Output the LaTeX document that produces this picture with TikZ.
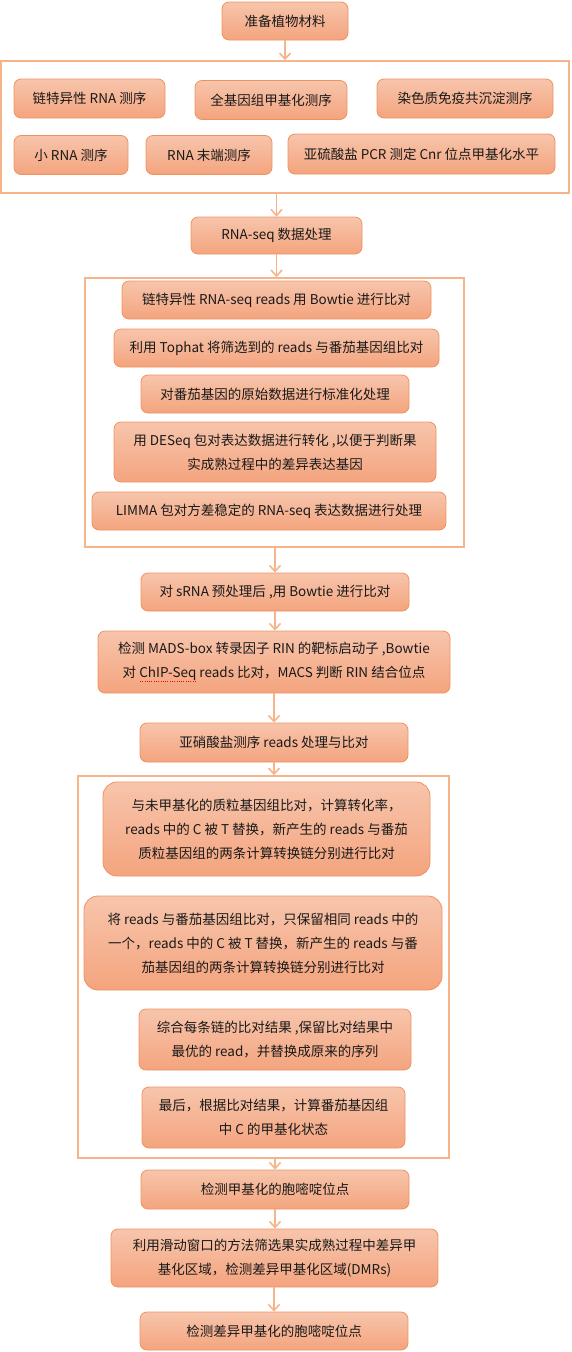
\documentclass[tikz,border=0pt]{standalone}
\usepackage{fontspec}
\setmainfont{Noto Sans CJK SC}
\usepackage{xcolor}
\usepackage{tikz}
\usetikzlibrary{arrows.meta,positioning,calc}

\definecolor{boxtop}{RGB}{247,197,172}
\definecolor{boxbot}{RGB}{244,164,126}
\definecolor{boxedge}{RGB}{240,146,96}
\definecolor{frameline}{RGB}{246,180,138}
% red dotted spell mark under a word
\newcommand\spellmark[1]{\setbox0\hbox{#1}\rlap{\color{red}\raisebox{-3.5pt}{\hbox to \wd0{\xleaders\hbox to 2.2pt{\hss\rule{0.8pt}{0.8pt}\hss}\hfill}}}#1}

\begin{document}
\begin{tikzpicture}[x=1pt, y=-1pt, font=\fontsize{13.5}{24}\selectfont, >={Straight Barb[length=6pt,width=11pt]},
  stepbox/.style={draw=boxedge, line width=0.8pt, rounded corners=7pt, top color=boxtop, bottom color=boxbot, align=center, inner sep=0pt, text=black!90},
  boxsize/.style 2 args={minimum width=#1, minimum height=#2},
  groupframe/.style={draw=frameline, line width=1.6pt, inner sep=0pt},
  flow/.style={->, draw=frameline, line width=1.6pt}]
\useasboundingbox (0,0) rectangle (571,1352);
% plant material and sequencing
\node[stepbox, boxsize={126}{38}] (prep) at (285,21) {准备植物材料};
\node[groupframe, boxsize={568}{132}] (grp1) at (285,127) {};
\node[stepbox, boxsize={151}{39}] (ssrna) at (89.5,98.5) {链特异性 RNA 测序};
\node[stepbox, boxsize={152}{39}] (wgbs) at (271,100) {全基因组甲基化测序};
\node[stepbox, boxsize={176}{39}] (chip) at (465,98.5) {染色质免疫共沉淀测序};
\node[stepbox, boxsize={114}{39}] (smallrna) at (71,155) {小 RNA 测序};
\node[stepbox, boxsize={126}{39}] (rnaend) at (209,155) {RNA 末端测序};
\node[stepbox, boxsize={267}{40}] (bspcr) at (421.5,154) {亚硫酸盐 PCR 测定 Cnr 位点甲基化水平};
% RNA-seq
\node[stepbox, boxsize={171}{37}] (rnaseq) at (276.5,235.5) {RNA-seq 数据处理};
\node[groupframe, boxsize={379}{269}] (grp2) at (274.5,412.5) {};
\node[stepbox, boxsize={309}{38}] (bowtie) at (276.5,300) {链特异性 RNA-seq reads 用 Bowtie 进行比对};
\node[stepbox, boxsize={325}{38}] (tophat) at (276.5,348) {利用 Tophat 将筛选到的 reads 与番茄基因组比对};
\node[stepbox, boxsize={268}{38}] (norm) at (275,394) {对番茄基因的原始数据进行标准化处理};
\node[stepbox, boxsize={322}{60}] (deseq) at (275,452) {用 DESeq 包对表达数据进行转化 ,以便于判断果\\实成熟过程中的差异表达基因};
\node[stepbox, boxsize={354}{38}] (limma) at (269,511) {LIMMA 包对方差稳定的 RNA-seq 表达数据进行处理};
% sRNA, ChIP and bisulfite
\node[stepbox, boxsize={268}{38}] (srna) at (275,592) {对 sRNA 预处理后 ,用 Bowtie 进行比对};
\node[stepbox, boxsize={352}{62}] (mads) at (274,662) {检测 MADS-box 转录因子 RIN 的靶标启动子 ,Bowtie\\对 \spellmark{ChIP-Seq} reads 比对，MACS 判断 RIN 结合位点};
\node[stepbox, boxsize={268}{39}] (bisread) at (274,742.5) {亚硝酸盐测序 reads 处理与比对};
\node[groupframe, boxsize={371}{382}] (grp3) at (263.5,967) {};
\node[stepbox, boxsize={327}{94}, rounded corners=14pt] (plasmid) at (266.5,829) {与未甲基化的质粒基因组比对，计算转化率，\\reads 中的 C 被 T 替换，新产生的 reads 与番茄\\质粒基因组的两条计算转换链分别进行比对};
\node[stepbox, boxsize={358}{94}, rounded corners=14pt] (genome) at (263,943) {将 reads 与番茄基因组比对，只保留相同 reads 中的\\一个，reads 中的 C 被 T 替换，新产生的 reads 与番\\茄基因组的两条计算转换链分别进行比对};
\node[stepbox, boxsize={272}{61}] (merge) at (275,1039.5) {综合每条链的比对结果 ,保留比对结果中\\最优的 read，并替换成原来的序列};
\node[stepbox, boxsize={263}{61}] (state) at (273.5,1117.5) {最后，根据比对结果，计算番茄基因组\\中 C 的甲基化状态};
% methylation sites
\node[stepbox, boxsize={268}{39}] (mc) at (275,1189.5) {检测甲基化的胞嘧啶位点};
\node[stepbox, boxsize={327}{58}] (dmr) at (274.5,1258) {利用滑动窗口的方法筛选果实成熟过程中差异甲\\基化区域，检测差异甲基化区域(DMRs)};
\node[stepbox, boxsize={268}{38}] (dmc) at (274,1331) {检测差异甲基化的胞嘧啶位点};
% connectors
\draw[flow] (prep.south) -- (prep.south |- grp1.north);
\draw[flow] (grp1.south -| rnaseq) -- (rnaseq.north);
\draw[flow] (rnaseq.south) -- (rnaseq.south |- grp2.north);
\draw[flow] (grp2.south -| srna) -- (srna.north);
\draw[flow] (srna.south) -- (srna.south |- mads.north);
\draw[flow] (mads.south -| bisread) -- (bisread.north);
\draw[flow] (bisread.south) -- (bisread.south |- grp3.north);
\draw[flow] (grp3.south -| mc) -- (mc.north);
\draw[flow] (mc.south) -- (mc.south |- dmr.north);
\draw[flow] (dmr.south -| dmc) -- (dmc.north);
\end{tikzpicture}
\end{document}
